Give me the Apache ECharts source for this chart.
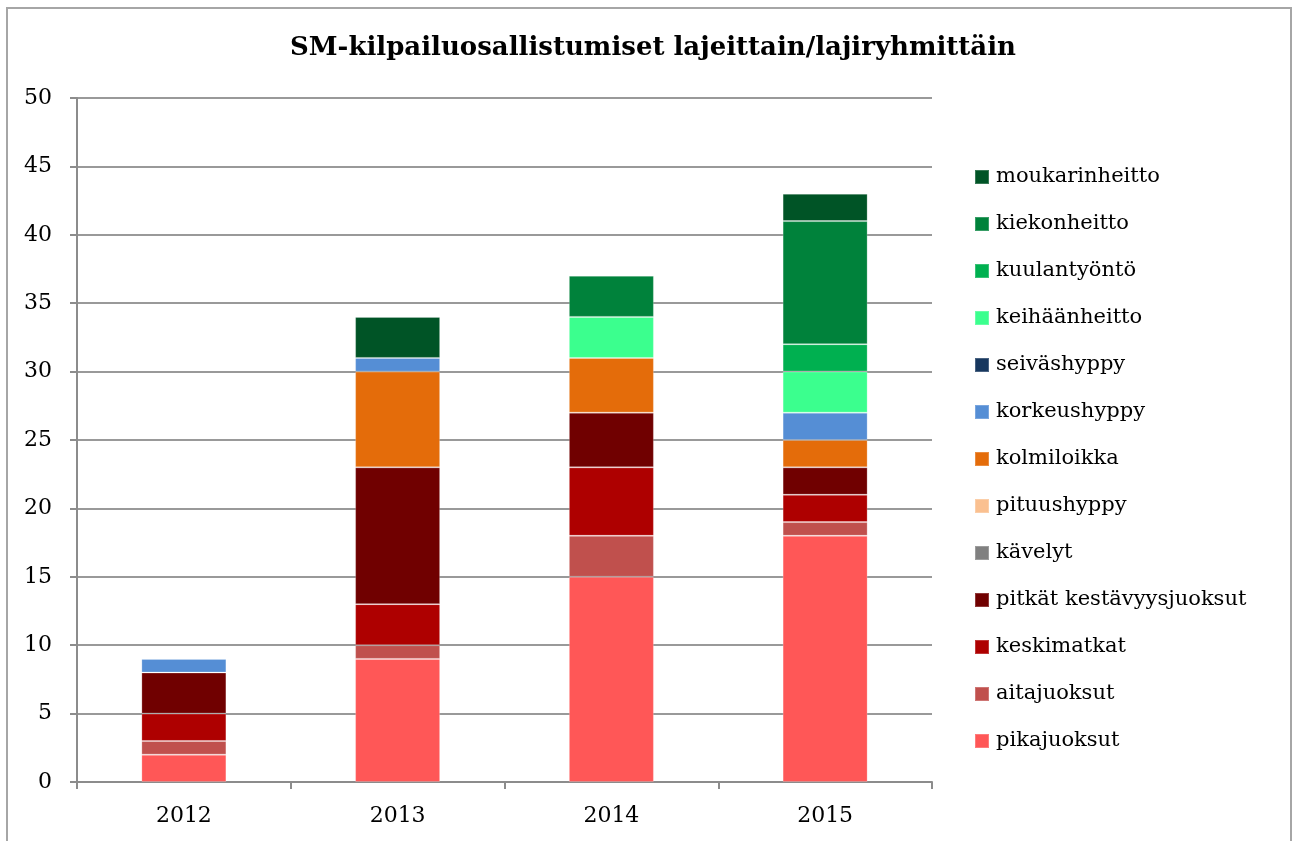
<!DOCTYPE html>
<html>
<head>
<meta charset="utf-8">
<script src="https://cdn.jsdelivr.net/npm/echarts@6/dist/echarts.min.js"></script>
<style>
  html, body { margin: 0; padding: 0; background: #fff; overflow: hidden; }
  #frame { position: absolute; left: 6px; top: 7px; width: 1282px; height: 900px;
           border: 2px solid #a6a6a6; border-bottom: none; }
  #myChart { position: absolute; left: 0; top: 0; width: 1293px; height: 841px; }
</style>
</head>
<body>
<div id="frame"></div>
<div id="myChart"></div>
<script>
var years = ['2012', '2013', '2014', '2015']
var yTicks = [0, 5, 10, 15, 20, 25, 30, 35, 40, 45, 50]

// lajit alhaalta ylös (pinon järjestys)
var lajit = ['pikajuoksut', 'aitajuoksut', 'keskimatkat', 'pitkät kestävyysjuoksut', 'kävelyt',
    'pituushyppy', 'kolmiloikka', 'korkeushyppy', 'seiväshyppy', 'keihäänheitto',
    'kuulantyöntö', 'kiekonheitto', 'moukarinheitto']
var pikajuoksut = [2, 9, 15, 18]
var aitajuoksut = [1, 1, 3, 1]
var keskimatkat = [2, 3, 5, 2]
var pitkat = [3, 10, 4, 2]
var kavelyt = [0, 0, 0, 0]
var pituushyppy = [0, 0, 0, 0]
var kolmiloikka = [0, 7, 4, 2]
var korkeushyppy = [1, 1, 0, 2]
var seivashyppy = [0, 0, 0, 0]
var keihaanheitto = [0, 0, 3, 3]
var kuulantyonto = [0, 0, 0, 2]
var kiekonheitto = [0, 0, 3, 9]
var moukarinheitto = [0, 3, 0, 2]
var arvot = [pikajuoksut, aitajuoksut, keskimatkat, pitkat, kavelyt, pituushyppy, kolmiloikka,
    korkeushyppy, seivashyppy, keihaanheitto, kuulantyonto, kiekonheitto, moukarinheitto]
var varit = ['#ff5757', '#c0504d', '#ae0000', '#700000', '#808080', '#fac090', '#e46c0a',
    '#558ed5', '#17375e', '#3bff8e', '#00b050', '#00823b', '#005426']

var font = 'DejaVu Serif'

var series = lajit.map(function (nimi, i) {
    return {
        name: nimi,
        type: 'bar',
        stack: 'kaikki',
        barWidth: 85,
        itemStyle: {color: varit[i], borderColor: 'rgba(255,255,255,0.22)', borderWidth: 1},
        data: arvot[i].map(function (v) { return v === 0 ? null : v })
    }
})

var myChart = echarts.init(document.getElementById('myChart'))
myChart.setOption({
    animation: false,
    title: {
        text: 'SM-kilpailuosallistumiset lajeittain/lajiryhmittäin',
        left: 648, top: 30, textAlign: 'center',
        textStyle: {fontFamily: font, fontWeight: 'bold', fontSize: 26, color: '#000'}
    },
    legend: {
        orient: 'vertical',
        left: 974, top: 166,
        padding: 0,
        data: lajit.slice().reverse(),
        icon: 'rect',
        itemWidth: 14, itemHeight: 14,
        itemGap: 25,
        textStyle: {fontFamily: font, fontSize: 21, color: '#000', lineHeight: 22, padding: [0, 0, 0, 2]}
    },
    grid: {left: 77, right: 361, top: 98, bottom: 59},
    xAxis: {
        type: 'category',
        data: years,
        axisLine: {lineStyle: {color: '#8c8c8c', width: 2}},
        axisTick: {show: true, length: 7, lineStyle: {color: '#8c8c8c', width: 2}},
        axisLabel: {fontFamily: font, fontSize: 22, color: '#000', margin: 23}
    },
    yAxis: {
        type: 'value',
        min: yTicks[0], max: yTicks[yTicks.length - 1], interval: 5,
        axisLine: {show: true, lineStyle: {color: '#8c8c8c', width: 2}},
        axisTick: {show: true, length: 7, lineStyle: {color: '#8c8c8c', width: 2}},
        splitLine: {lineStyle: {color: '#999', width: 2}},
        axisLabel: {fontFamily: font, fontSize: 22, color: '#000', margin: 25}
    },
    series: series
})
</script>
</body>
</html>
